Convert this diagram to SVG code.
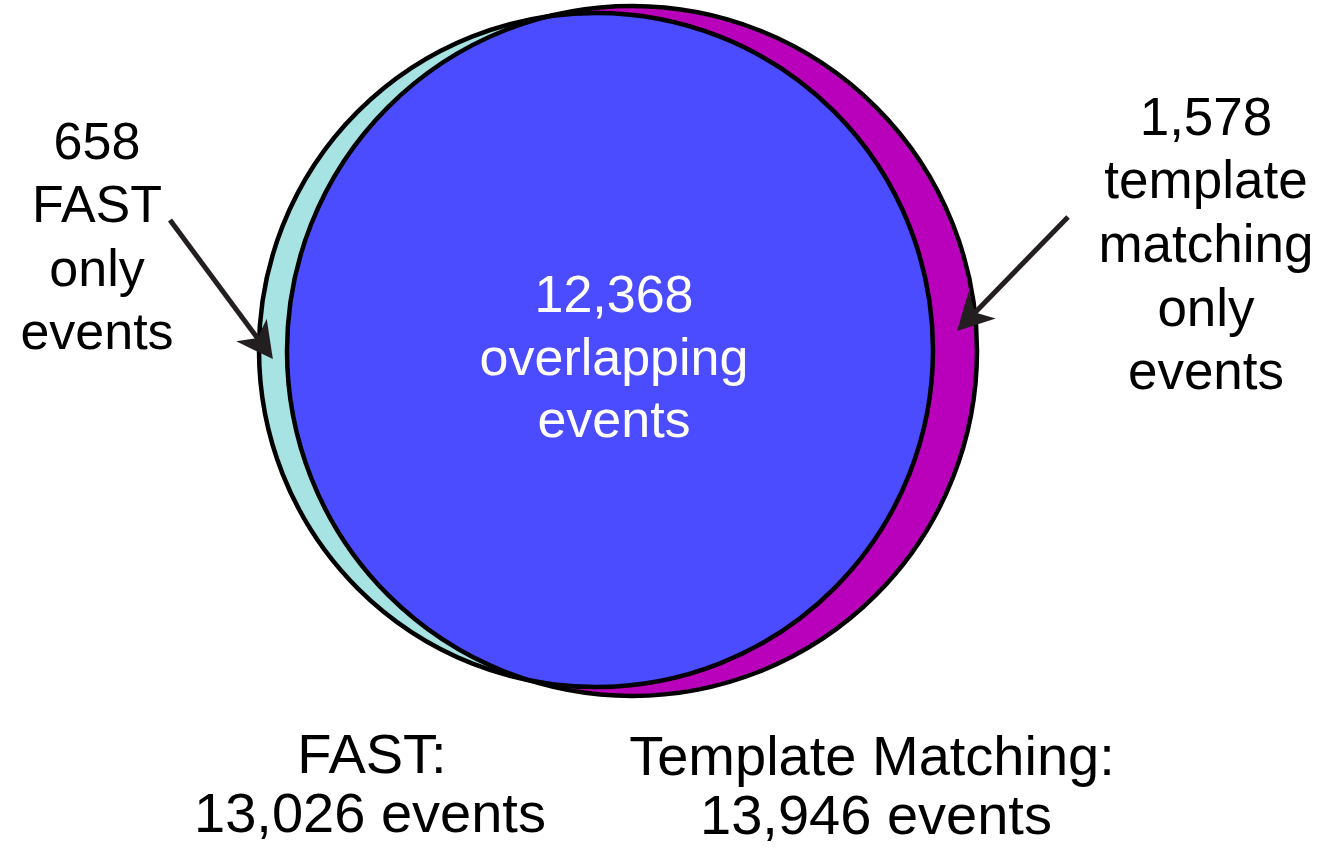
<svg xmlns="http://www.w3.org/2000/svg" width="1326" height="848" viewBox="0 0 1326 848">
<style>
.lbl{font-family:"Liberation Sans",Arial,Helvetica,sans-serif;font-size:52px;text-anchor:middle;fill:#000}
.big{font-size:56px}
.inner{fill:#fff}
.ring{fill:none;stroke:#000;stroke-width:4.5}
.arrow{stroke:#231F20;stroke-width:5;fill:none}
</style>
<defs>
<clipPath id="clipFast"><circle cx="596" cy="350" r="337"/></clipPath>
<marker id="head" markerUnits="userSpaceOnUse" markerWidth="40" markerHeight="40" viewBox="0 -20 40 40" refX="10" refY="0" orient="auto">
<path d="M36,0 L0,-19 L10,0 L0,19 Z" fill="#231F20"/>
</marker>
</defs>
<rect width="1326" height="848" fill="#fff"/>
<g id="fast-set">
<circle cx="596" cy="350" r="337" fill="#A6E3E2"/>
</g>
<g id="tm-set">
<circle cx="632" cy="351" r="345" fill="#B900BA"/>
</g>
<g id="overlap">
<circle cx="632" cy="351" r="345" fill="#4B4BFF" clip-path="url(#clipFast)"/>
<circle class="ring" cx="596" cy="350" r="337"/>
<circle class="ring" cx="632" cy="351" r="345"/>
<text class="lbl inner" x="614" y="312">12,368</text>
<text class="lbl inner" x="614" y="375">overlapping</text>
<text class="lbl inner" x="614" y="437">events</text>
</g>
<g id="fast-only">
<text class="lbl" x="97" y="159">658</text>
<text class="lbl" x="97" y="222">FAST</text>
<text class="lbl" x="97" y="286">only</text>
<text class="lbl" x="97" y="349">events</text>
</g>
<g id="tm-only">
<text class="lbl" x="1206" y="135" style="font-size:53px">1,578</text>
<text class="lbl" x="1206" y="198" style="font-size:53px">template</text>
<text class="lbl" x="1206" y="262" style="font-size:53px">matching</text>
<text class="lbl" x="1206" y="326" style="font-size:53px">only</text>
<text class="lbl" x="1206" y="389" style="font-size:53px">events</text>
</g>
<g id="fast-total">
<text class="lbl big" x="372" y="773">FAST:</text>
<text class="lbl big" x="370" y="832">13,026 events</text>
</g>
<g id="tm-total">
<text class="lbl big" x="872" y="775">Template Matching:</text>
<text class="lbl big" x="876" y="834">13,946 events</text>
</g>
<g id="connectors">
<line class="arrow" x1="170" y1="220" x2="257.4" y2="338.1" marker-end="url(#head)"/>
<line class="arrow" x1="1068" y1="217" x2="975.1" y2="312.4" marker-end="url(#head)"/>
</g>
</svg>
